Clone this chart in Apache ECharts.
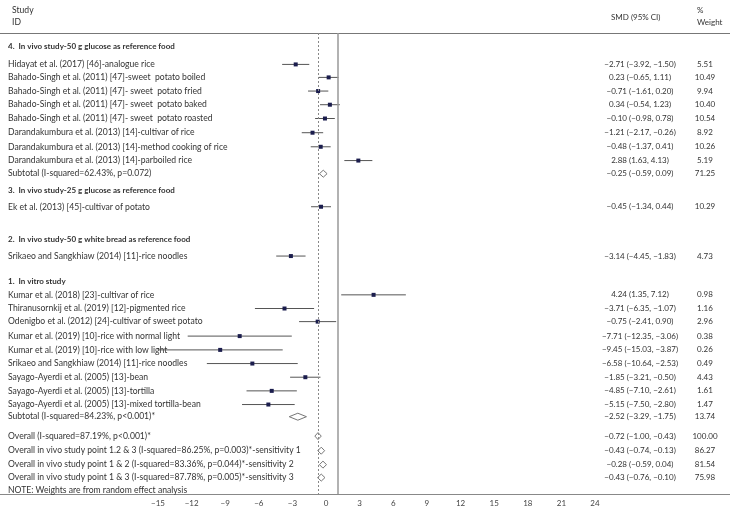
<!DOCTYPE html>
<html><head><meta charset="utf-8">
<script src="https://cdn.jsdelivr.net/npm/echarts@6/dist/echarts.min.js"></script>
<style>html,body{margin:0;padding:0;background:#fff}#c{width:737px;height:509px}</style>
</head><body><div id="c"></div>
<script>
// ---------------- DATA ----------------
const rowLabels = [
  "4.  In vivo study-50 g glucose as reference food",
  "Hidayat et al. (2017) [46]-analogue rice",
  "Bahado-Singh et al. (2011) [47]-sweet  potato boiled",
  "Bahado-Singh et al. (2011) [47]- sweet  potato fried",
  "Bahado-Singh et al. (2011) [47]- sweet  potato baked",
  "Bahado-Singh et al. (2011) [47]- sweet  potato roasted",
  "Darandakumbura et al. (2013) [14]-cultivar of rice",
  "Darandakumbura et al. (2013) [14]-method cooking of rice",
  "Darandakumbura et al. (2013) [14]-parboiled rice",
  "Subtotal (I-squared=62.43%, p=0.072)",
  "3.  In vivo study-25 g glucose as reference food",
  "Ek et al. (2013) [45]-cultivar of potato",
  "2.  In vivo study-50 g white bread as reference food",
  "Srikaeo and Sangkhiaw (2014) [11]-rice noodles",
  "1.  In vitro study",
  "Kumar et al. (2018) [23]-cultivar of rice",
  "Thiranusornkij et al. (2019) [12]-pigmented rice",
  "Odenigbo et al. (2012) [24]-cultivar of sweet potato",
  "Kumar et al. (2019) [10]-rice with normal light",
  "Kumar et al. (2019) [10]-rice with low light",
  "Srikaeo and Sangkhiaw (2014) [11]-rice noodles",
  "Sayago-Ayerdi et al. (2005) [13]-bean",
  "Sayago-Ayerdi et al. (2005) [13]-tortilla",
  "Sayago-Ayerdi et al. (2005) [13]-mixed tortilla-bean",
  "Subtotal (I-squared=84.23%, p<0.001)*",
  "Overall (I-squared=87.19%, p<0.001)*",
  "Overall in vivo study point 1.2 & 3 (I-squared=86.25%, p=0.003)*-sensitivity 1",
  "Overall in vivo study point 1 & 2 (I-squared=83.36%, p=0.044)*-sensitivity 2",
  "Overall in vivo study point 1 & 3 (I-squared=87.78%, p=0.005)*-sensitivity 3",
  "NOTE: Weights are from random effect analysis"
];
const rowKind = ["head","study","study","study","study","study","study","study","study","sub",
  "head","study","head","study","head","study","study","study","study","study","study","study","study","study","sub",
  "sub","sub","sub","sub","note"];
const smd    = [null,-2.71,0.23,-0.71,0.34,-0.10,-1.21,-0.48,2.88,-0.25,null,-0.45,null,-3.14,null,4.24,-3.71,-0.75,-7.71,-9.45,-6.58,-1.85,-4.85,-5.15,-2.52,-0.72,-0.43,-0.28,-0.43,null];
const ciLow  = [null,-3.92,-0.65,-1.61,-0.54,-0.98,-2.17,-1.37,1.63,-0.59,null,-1.34,null,-4.45,null,1.35,-6.35,-2.41,-12.35,-15.03,-10.64,-3.21,-7.10,-7.50,-3.29,-1.00,-0.74,-0.59,-0.76,null];
const ciHigh = [null,-1.50,1.11,0.20,1.23,0.78,-0.26,0.41,4.13,0.09,null,0.44,null,-1.83,null,7.12,-1.07,0.90,-3.06,-3.87,-2.53,-0.50,-2.61,-2.80,-1.75,-0.43,-0.13,0.04,-0.10,null];
const weight = [null,5.51,10.49,9.94,10.40,10.54,8.92,10.26,5.19,71.25,null,10.29,null,4.73,null,0.98,1.16,2.96,0.38,0.26,0.49,4.43,1.61,1.47,13.74,100.00,86.27,81.54,75.98,null];
const xTickMin = -15, xTickMax = 24, xTickStep = 3;
const overallLine = -0.72;
const nullLine = 1;

// ---------------- LAYOUT ----------------
const rowPos = [-1.32,0,0.95,1.95,2.95,3.96,5.0,6.03,7.04,8.0,9.23,10.42,12.84,14.03,15.9,16.87,17.87,18.83,19.89,20.9,21.9,22.9,23.9,24.9,25.79,27.21,28.28,29.3,30.25,31.2];
const FONT = 'Lato';
const FS = 8;
const FSL = 8.6;
const TXT = '#333';
const fmt = v => v.toFixed(2).replace(/-/g, '\u2212');

const chart = echarts.init(document.getElementById('c'));
function renderItem(params, api) {
  const i = params.dataIndex;
  const y = api.coord([0, rowPos[i]])[1];
  const kind = rowKind[i];
  const ch = [];
  ch.push({type:'text', style:{text:rowLabels[i], x:8, y:y, fill:TXT,
    font:(kind==='head'?'bold ' + FS : FSL) + 'px ' + FONT, align:'left', verticalAlign:'middle'}});
  if (kind === 'study') {
    const a = api.coord([ciLow[i], rowPos[i]]), b = api.coord([ciHigh[i], rowPos[i]]), m = api.coord([smd[i], rowPos[i]]);
    ch.push({type:'line', shape:{x1:a[0], y1:y, x2:b[0], y2:y}, style:{stroke:'#555', lineWidth:1}});
    ch.push({type:'rect', shape:{x:m[0]-2, y:y-2, width:4, height:4}, style:{fill:'#1b1d4d'}});
  } else if (kind === 'sub') {
    const a = api.coord([ciLow[i], rowPos[i]]), b = api.coord([ciHigh[i], rowPos[i]]), m = api.coord([smd[i], rowPos[i]]);
    ch.push({type:'polygon', shape:{points:[[a[0],y],[m[0],y-3.5],[b[0],y],[m[0],y+3.5]]}, style:{fill:'#fff', stroke:'#777', lineWidth:1}});
  }
  if (kind === 'study' || kind === 'sub') {
    ch.push({type:'text', style:{text:fmt(smd[i]) + ' (' + fmt(ciLow[i]) + ', ' + fmt(ciHigh[i]) + ')', x:640, y:y, fill:TXT,
      font:FS + 'px ' + FONT, align:'center', verticalAlign:'middle'}});
    ch.push({type:'text', style:{text:weight[i].toFixed(2), x:705, y:y, fill:TXT,
      font:FS + 'px ' + FONT, align:'center', verticalAlign:'middle'}});
  }
  return {type:'group', children:ch};
}

chart.setOption({
  animation:false,
  backgroundColor:'#fff',
  grid:{left:158, right:142, top:33, bottom:15},
  xAxis:{type:'value', min:xTickMin, max:xTickMax, interval:xTickStep,
    axisLine:{show:false}, axisTick:{show:false}, splitLine:{show:false},
    axisLabel:{fontFamily:FONT, fontSize:FS, color:'#444', margin:5, formatter:v => String(v).replace('-', '\u2212')}},
  yAxis:{type:'value', inverse:true, min:-2.3, max:31.45, show:false},
  series:[{
    type:'custom', clip:false, renderItem:renderItem,
    data:rowPos.map(p => [0, p]),
    markLine:{silent:true, symbol:'none', label:{show:false}, animation:false,
      data:[
        {xAxis:overallLine, lineStyle:{type:[2,2], color:'#888', width:1}},
        {xAxis:nullLine, lineStyle:{type:'solid', color:'#999', width:1.5}}
      ]}
  }],
  graphic:[
    {type:'line', shape:{x1:0, y1:33.5, x2:730, y2:33.5}, style:{stroke:'#777', lineWidth:1}},
    {type:'line', shape:{x1:0, y1:494.5, x2:730, y2:494.5}, style:{stroke:'#888', lineWidth:1}},
    {type:'text', left:12, top:6, style:{text:'Study', font:FSL+'px '+FONT, fill:TXT}},
    {type:'text', left:12, top:18, style:{text:'ID', font:FSL+'px '+FONT, fill:TXT}},
    {type:'text', left:611, top:13, style:{text:'SMD (95% CI)', font:FS+'px '+FONT, fill:TXT}},
    {type:'text', left:697, top:6, style:{text:'%', font:FS+'px '+FONT, fill:TXT}},
    {type:'text', left:697, top:18, style:{text:'Weight', font:FS+'px '+FONT, fill:TXT}}
  ]
});
</script></body></html>
